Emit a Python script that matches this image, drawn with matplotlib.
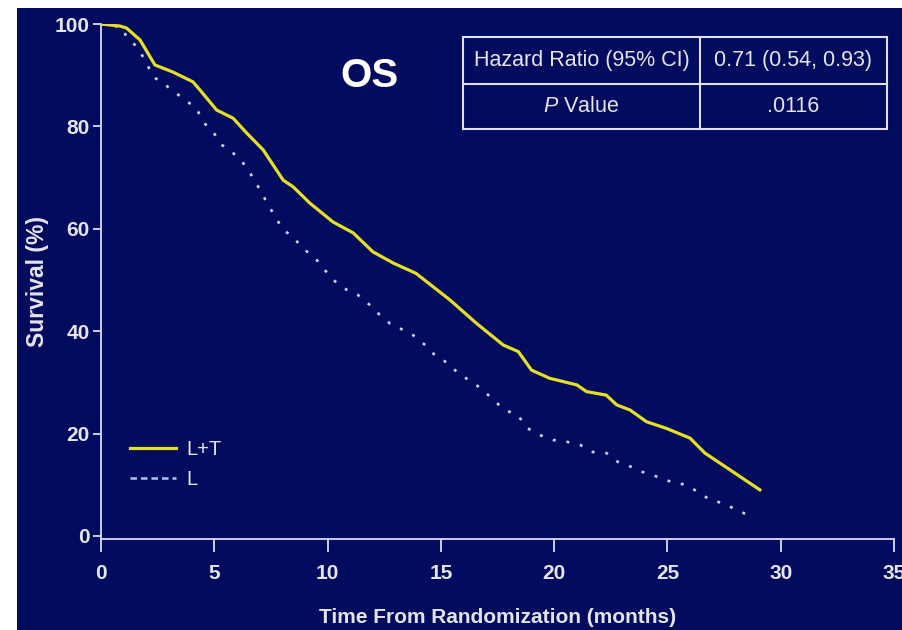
import matplotlib
matplotlib.use("Agg")
import matplotlib.pyplot as plt
from matplotlib.lines import Line2D
from matplotlib.patches import Rectangle

# survival curves (months, %)
lt_time = [0, 0.84, 1.13, 1.72, 2.38, 3.18, 4.06, 4.37, 5.1, 5.83, 6.43, 7.16, 8.04, 8.48,
           9.22, 10.25, 11.13, 12.0, 12.9, 13.9, 15.4, 16.58, 17.75, 18.42, 19.0, 19.8,
           21.0, 21.43, 22.3, 22.76, 23.35, 24.08, 24.96, 26.0, 26.65, 29.08]
lt_surv = [100, 99.6, 99.2, 96.9, 92.0, 90.6, 88.7, 87.1, 83.2, 81.6, 78.7, 75.4, 69.5, 68.2,
           65.0, 61.3, 59.2, 55.5, 53.3, 51.3, 46.1, 41.5, 37.3, 36.0, 32.4, 30.8,
           29.5, 28.2, 27.5, 25.6, 24.6, 22.3, 21.0, 19.1, 16.2, 9.0]

l_time = [0, 0.9, 1.13, 1.57, 1.94, 2.3, 2.75, 3.7, 4.22, 4.5, 4.95, 5.33, 5.83, 6.28, 6.58,
          7.02, 7.3, 7.68, 8.04, 8.48, 8.9, 9.45, 9.81, 10.25, 10.84, 11.33, 11.87, 12.3,
          12.75, 13.35, 13.9, 14.4, 14.8, 15.3, 15.76, 16.36, 16.87, 17.3, 17.83, 18.4,
          18.8, 19.37, 19.95, 20.55, 21.14, 21.7, 22.3, 22.8, 23.4, 24.0, 24.6, 25.2,
          25.8, 26.35, 26.9, 27.45, 28.05, 28.64]
l_surv = [100, 99.4, 97.5, 95.6, 93.0, 89.7, 88.4, 85.2, 83.5, 80.9, 78.9, 76.4, 74.8, 72.8,
          70.9, 67.6, 65.3, 62.4, 59.8, 58.4, 56.2, 54.3, 52.3, 50.0, 48.1, 47.1, 45.1, 43.2,
          41.5, 40.2, 38.9, 36.9, 35.0, 33.8, 31.8, 30.1, 28.5, 26.6, 24.6, 23.6,
          21.1, 19.7, 18.75, 18.4, 17.8, 16.4, 16.2, 14.5, 13.5, 12.3, 11.5, 10.5,
          10.0, 8.6, 7.0, 6.4, 5.1, 3.9]

x_ticks = [0, 5, 10, 15, 20, 25, 30, 35]
y_ticks = [0, 20, 40, 60, 80, 100]
table_rows = [["Hazard Ratio (95% CI)", "0.71 (0.54, 0.93)"],
              ["$\\it{P}$ Value", ".0116"]]

navy = "#020b5e"
yellow = "#e6e024"
dotcol = "#c8d6f4"
txt = "#e4e4ee"
plt.rcParams['font.family'] = ["Liberation Sans", "DejaVu Sans"]
plt.rcParams['mathtext.fontset'] = 'custom'
plt.rcParams['mathtext.it'] = 'Liberation Sans:italic'
plt.rcParams['mathtext.rm'] = 'Liberation Sans'

fig = plt.figure(figsize=(9.02, 6.30), dpi=100, facecolor="white")
# navy panel
fig.patches.append(Rectangle((17 / 902, 0), 1, 1 - 8 / 630, transform=fig.transFigure,
                             facecolor=navy, edgecolor="none", zorder=-5))

ax = fig.add_axes([101 / 902, 1 - 539 / 630, 793 / 902, 515 / 630])
ax.set_facecolor("none")
ax.set_zorder(2)

ax.plot(lt_time, lt_surv, color=yellow, lw=2.3, solid_joinstyle="round", zorder=3)
ax.plot(l_time, l_surv, color=dotcol, lw=1.9, linestyle=(0, (1.1, 4.1)), zorder=2)

ax.set_xlim(0, 35)
ax.set_ylim(-0.6, 100)
ax.set_xticks(x_ticks)
ax.set_yticks(y_ticks)
for s in ["top", "right"]:
    ax.spines[s].set_visible(False)
for s in ["left", "bottom"]:
    ax.spines[s].set_color("#d8dcf0")
    ax.spines[s].set_linewidth(1.3)
ax.tick_params(axis="x", colors="#d8dcf0", length=9, width=1.3, pad=9, labelsize=15,
               labelcolor=txt)
ax.tick_params(axis="y", colors="#d8dcf0", length=6, width=1.3, pad=2, labelsize=15,
               labelcolor=txt)
for lab in ax.get_xticklabels() + ax.get_yticklabels():
    lab.set_fontweight("bold")

ax.set_xlabel("Time From Randomization (months)", fontsize=15, fontweight="bold",
              color=txt, labelpad=18)
ax.set_ylabel("Survival (%)", fontsize=16.5, fontweight="bold", color=txt, labelpad=4)

# legend
handles = [Line2D([], [], color=yellow, lw=2.3),
           Line2D([], [], color="#a8c6f0", lw=1.8, linestyle=(0, (2.6, 1.6)))]
leg = ax.legend(handles, ["L+T", "L"], loc="upper left",
                bbox_to_anchor=((130 - 101) / 793, (539 - 440) / 515),
                frameon=False, fontsize=14.5, handlelength=2.3, handletextpad=0.5,
                labelspacing=0.55, borderpad=0, borderaxespad=0)
for t in leg.get_texts():
    t.set_color(txt)

# OS title
ax.text((370 - 101) / 793, (539 - 76) / 515, "OS", transform=ax.transAxes,
        ha="center", va="center", fontsize=29, fontweight="bold", color="white")

# hazard ratio table
x0, x1, xm = (463 - 101) / 793, (887 - 101) / 793, (700 - 101) / 793
yt, yb, ym = (539 - 37) / 515, (539 - 129) / 515, (539 - 84) / 515
lc = "#e0e0ec"
ax.add_patch(Rectangle((x0, yb), x1 - x0, yt - yb, transform=ax.transAxes, fill=False,
                       edgecolor=lc, lw=1.5, clip_on=False))
ax.plot([xm, xm], [yb, yt], transform=ax.transAxes, color=lc, lw=1.5, clip_on=False)
ax.plot([x0, x1], [ym, ym], transform=ax.transAxes, color=lc, lw=1.5, clip_on=False)
row_y = [(yt + ym) / 2, (ym + yb) / 2]
col_x = [(x0 + xm) / 2, (xm + x1) / 2]
for r, row in enumerate(table_rows):
    for c, cell in enumerate(row):
        ax.text(col_x[c], row_y[r], cell, transform=ax.transAxes, ha="center",
                va="center", fontsize=15.5, color=txt)

fig.savefig("out.png", dpi=100, facecolor="white")
